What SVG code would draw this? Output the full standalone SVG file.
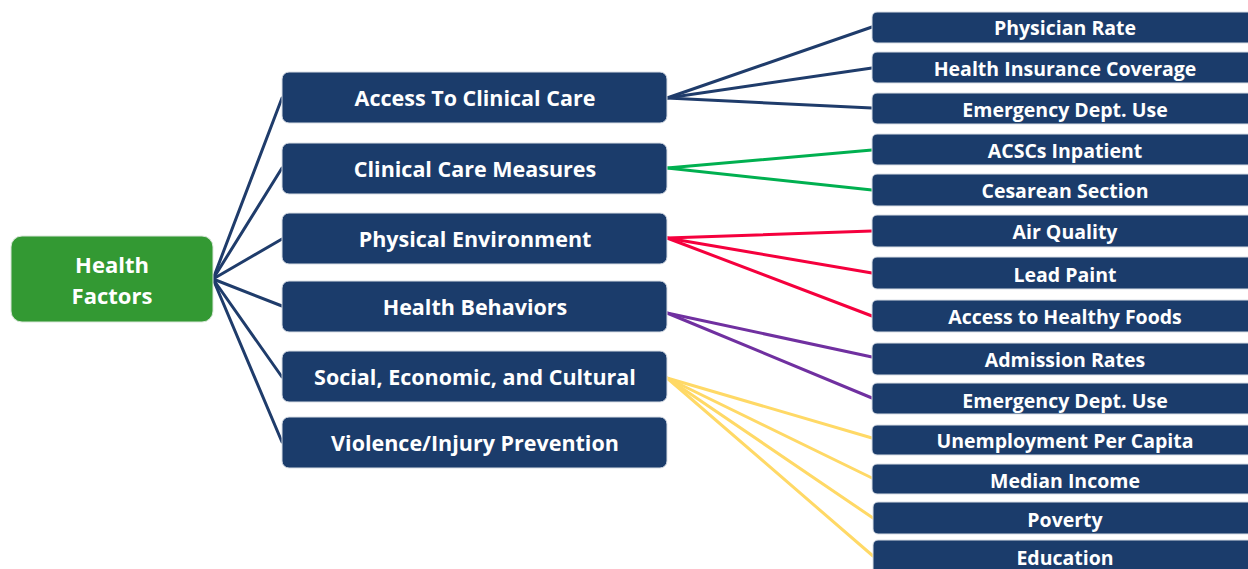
<svg xmlns="http://www.w3.org/2000/svg" width="1248" height="569" viewBox="0 0 1248 569">
<style>
.box{fill:#1b3c6b;stroke:#d9dee6;stroke-width:1}
.root{fill:#339933;stroke:#d9e6d9;stroke-width:1}
text{font-family:"Open Sans","Liberation Sans",sans-serif;font-weight:700;fill:#ffffff;text-anchor:middle}
.mt{font-size:21.5px}
.rt{font-size:19.5px}
.ot{font-size:22px}
.c{fill:none;stroke-width:3;stroke-linecap:round}
.navy{stroke:#1f3c6b}
.grn{stroke:#00b050}
.red{stroke:#f5003d}
.pur{stroke:#7030a0}
.yel{stroke:#ffd966}
</style>
<g id="connectors">
<line class="c navy" x1="213" y1="279" x2="282" y2="98"/>
<line class="c navy" x1="213" y1="279" x2="282" y2="168"/>
<line class="c navy" x1="213" y1="279" x2="282" y2="239"/>
<line class="c navy" x1="213" y1="279" x2="282" y2="306"/>
<line class="c navy" x1="213" y1="279" x2="282" y2="377"/>
<line class="c navy" x1="213" y1="279" x2="282" y2="442"/>
<line class="c navy" x1="667" y1="98" x2="872" y2="27"/>
<line class="c navy" x1="667" y1="98" x2="872" y2="68"/>
<line class="c navy" x1="667" y1="98" x2="872" y2="108"/>
<line class="c grn" x1="667" y1="168" x2="872" y2="150"/>
<line class="c grn" x1="667" y1="168" x2="872" y2="190"/>
<line class="c red" x1="667" y1="238" x2="872" y2="231"/>
<line class="c red" x1="667" y1="238" x2="872" y2="273"/>
<line class="c red" x1="667" y1="238" x2="872" y2="316"/>
<line class="c pur" x1="667" y1="313" x2="872" y2="357"/>
<line class="c pur" x1="667" y1="313" x2="872" y2="398"/>
<line class="c yel" x1="667" y1="378" x2="872" y2="438"/>
<line class="c yel" x1="667" y1="378" x2="872" y2="478"/>
<line class="c yel" x1="667" y1="378" x2="873" y2="518"/>
<line class="c yel" x1="667" y1="378" x2="873" y2="556"/>
</g>
<g id="health-factors"><rect class="root" x="11" y="236" width="202" height="86" rx="11"/><text class="ot" x="112" y="273">Health</text><text class="ot" x="112" y="304">Factors</text></g>
<g id="access-clinical-care"><rect class="box" x="282" y="72" width="385" height="51" rx="7"/><text class="mt" x="475" y="106">Access To Clinical Care</text></g>
<g id="clinical-care-measures"><rect class="box" x="282" y="143" width="385" height="51" rx="7"/><text class="mt" x="475" y="177">Clinical Care Measures</text></g>
<g id="physical-environment"><rect class="box" x="282" y="213" width="385" height="51" rx="7"/><text class="mt" x="475" y="247">Physical Environment</text></g>
<g id="health-behaviors"><rect class="box" x="282" y="281" width="385" height="51" rx="7"/><text class="mt" x="475" y="315">Health Behaviors</text></g>
<g id="social-economic-cultural"><rect class="box" x="282" y="351" width="385" height="51" rx="7"/><text class="mt" x="475" y="385">Social, Economic, and Cultural</text></g>
<g id="violence-injury-prevention"><rect class="box" x="282" y="417" width="385" height="51" rx="7"/><text class="mt" x="475" y="451">Violence/Injury Prevention</text></g>
<g id="physician-rate"><rect class="box" x="872" y="12" width="390" height="31" rx="5"/><text class="rt" x="1065" y="35">Physician Rate</text></g>
<g id="health-insurance-coverage"><rect class="box" x="872" y="52" width="390" height="31" rx="5"/><text class="rt" x="1065" y="76">Health Insurance Coverage</text></g>
<g id="emergency-dept-use-1"><rect class="box" x="872" y="93" width="390" height="31" rx="5"/><text class="rt" x="1065" y="117">Emergency Dept. Use</text></g>
<g id="acscs-inpatient"><rect class="box" x="872" y="134" width="390" height="31" rx="5"/><text class="rt" x="1065" y="158">ACSCs Inpatient</text></g>
<g id="cesarean-section"><rect class="box" x="872" y="174" width="390" height="32" rx="5"/><text class="rt" x="1065" y="198">Cesarean Section</text></g>
<g id="air-quality"><rect class="box" x="872" y="215" width="390" height="32" rx="5"/><text class="rt" x="1065" y="239">Air Quality</text></g>
<g id="lead-paint"><rect class="box" x="872" y="257" width="390" height="32" rx="5"/><text class="rt" x="1065" y="282">Lead Paint</text></g>
<g id="access-healthy-foods"><rect class="box" x="872" y="300" width="390" height="32" rx="5"/><text class="rt" x="1065" y="324">Access to Healthy Foods</text></g>
<g id="admission-rates"><rect class="box" x="872" y="343" width="390" height="32" rx="5"/><text class="rt" x="1065" y="367">Admission Rates</text></g>
<g id="emergency-dept-use-2"><rect class="box" x="872" y="383" width="390" height="31" rx="5"/><text class="rt" x="1065" y="408">Emergency Dept. Use</text></g>
<g id="unemployment-per-capita"><rect class="box" x="872" y="425" width="390" height="30" rx="5"/><text class="rt" x="1065" y="448">Unemployment Per Capita</text></g>
<g id="median-income"><rect class="box" x="872" y="464" width="390" height="30" rx="5"/><text class="rt" x="1065" y="488">Median Income</text></g>
<g id="poverty"><rect class="box" x="873" y="502" width="390" height="32" rx="5"/><text class="rt" x="1065" y="527">Poverty</text></g>
<g id="education"><rect class="box" x="873" y="540" width="390" height="40" rx="5"/><text class="rt" x="1065" y="565">Education</text></g>
</svg>
